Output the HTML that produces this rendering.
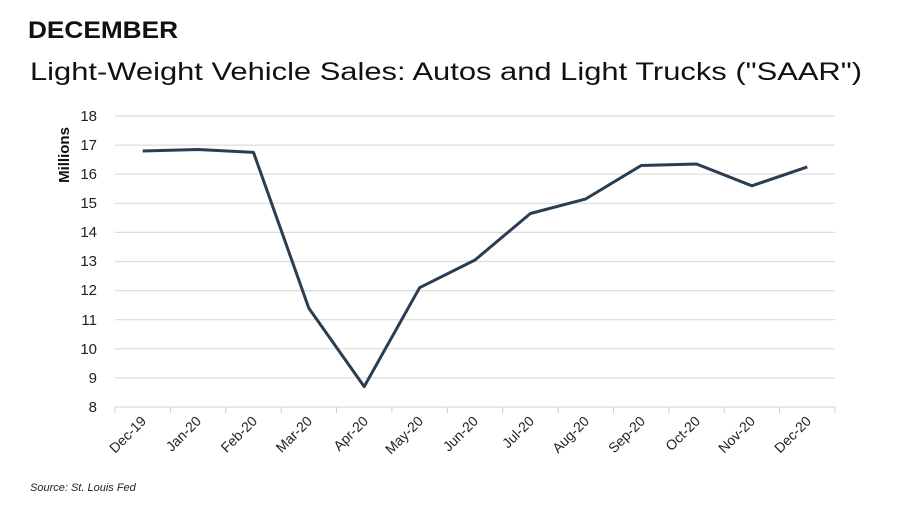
<!DOCTYPE html>
<html><head><meta charset="utf-8"><style>
body{margin:0;background:#fff;}
svg{display:block;font-family:"Liberation Sans",Arial,sans-serif;}
</style></head><body>
<svg width="900" height="512" viewBox="0 0 900 512">
<text x="28" y="38" font-size="24" font-weight="bold" fill="#111" textLength="150" lengthAdjust="spacingAndGlyphs">DECEMBER</text>
<text x="30" y="80" font-size="25" fill="#111" textLength="832" lengthAdjust="spacingAndGlyphs">Light-Weight Vehicle Sales: Autos and Light Trucks ("SAAR")</text>
<g stroke="#dcdcdc" stroke-width="1.2">
<line x1="115" x2="835" y1="116" y2="116"/><line x1="115" x2="835" y1="145.1" y2="145.1"/>
<line x1="115" x2="835" y1="174.2" y2="174.2"/><line x1="115" x2="835" y1="203.3" y2="203.3"/>
<line x1="115" x2="835" y1="232.4" y2="232.4"/><line x1="115" x2="835" y1="261.5" y2="261.5"/>
<line x1="115" x2="835" y1="290.6" y2="290.6"/><line x1="115" x2="835" y1="319.7" y2="319.7"/>
<line x1="115" x2="835" y1="348.8" y2="348.8"/><line x1="115" x2="835" y1="377.9" y2="377.9"/>
<line x1="115" x2="835" y1="407" y2="407"/>
</g>
<g stroke="#ccc" stroke-width="1">
<line x1="115" x2="115" y1="407" y2="413"/><line x1="170.4" x2="170.4" y1="407" y2="413"/><line x1="225.8" x2="225.8" y1="407" y2="413"/><line x1="281.2" x2="281.2" y1="407" y2="413"/><line x1="336.5" x2="336.5" y1="407" y2="413"/><line x1="391.9" x2="391.9" y1="407" y2="413"/><line x1="447.3" x2="447.3" y1="407" y2="413"/><line x1="502.7" x2="502.7" y1="407" y2="413"/><line x1="558.1" x2="558.1" y1="407" y2="413"/><line x1="613.5" x2="613.5" y1="407" y2="413"/><line x1="668.8" x2="668.8" y1="407" y2="413"/><line x1="724.2" x2="724.2" y1="407" y2="413"/><line x1="779.6" x2="779.6" y1="407" y2="413"/><line x1="835" x2="835" y1="407" y2="413"/>
</g>
<g font-size="15" fill="#222" text-anchor="end">
<text x="97" y="121">18</text><text x="97" y="150">17</text><text x="97" y="179">16</text><text x="97" y="208">15</text><text x="97" y="237">14</text><text x="97" y="266">13</text><text x="97" y="295">12</text><text x="97" y="325">11</text><text x="97" y="354">10</text><text x="97" y="383">9</text><text x="97" y="412">8</text>
</g>
<text transform="translate(69,155) rotate(-90)" font-size="15" font-weight="bold" text-anchor="middle" fill="#111">Millions</text>
<g font-size="14" fill="#222" text-anchor="end">
<text transform="translate(147,422) rotate(-45)">Dec-19</text>
<text transform="translate(202,422) rotate(-45)">Jan-20</text>
<text transform="translate(258,422) rotate(-45)">Feb-20</text>
<text transform="translate(313,422) rotate(-45)">Mar-20</text>
<text transform="translate(369,422) rotate(-45)">Apr-20</text>
<text transform="translate(424,422) rotate(-45)">May-20</text>
<text transform="translate(479,422) rotate(-45)">Jun-20</text>
<text transform="translate(535,422) rotate(-45)">Jul-20</text>
<text transform="translate(590,422) rotate(-45)">Aug-20</text>
<text transform="translate(646,422) rotate(-45)">Sep-20</text>
<text transform="translate(701,422) rotate(-45)">Oct-20</text>
<text transform="translate(756,422) rotate(-45)">Nov-20</text>
<text transform="translate(812,422) rotate(-45)">Dec-20</text>
</g>
<polyline fill="none" stroke="#2b3d52" stroke-width="3" stroke-linejoin="round" points="142.7,151.0 198.1,149.5 253.5,152.4 308.8,308.1 364.2,386.6 419.6,287.7 475.0,260.0 530.4,213.5 585.8,198.9 641.2,165.5 696.5,164.0 751.9,185.8 807.3,166.9"/>
<text x="30" y="491" font-size="11" font-style="italic" fill="#222">Source: St. Louis Fed</text>
</svg>
</body></html>
